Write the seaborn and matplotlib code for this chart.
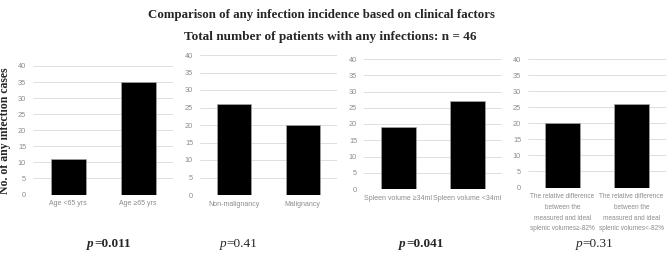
import matplotlib
matplotlib.use("Agg")
import matplotlib.pyplot as plt
import seaborn as sns

sns.set_theme(style="white")
plt.rcParams['font.family'] = ['Liberation Sans', 'DejaVu Sans']

# ---- data ----
cats_age = ["Age <65 yrs", "Age \u226565 yrs"]
vals_age = [11, 35]
cats_mal = ["Non-malignancy", "Malignancy"]
vals_mal = [26, 20]
cats_spl = ["Spleen volume \u226534ml", "Spleen volume <34ml"]
vals_spl = [19, 27]
cats_rel = ["The relative difference\nbetween the\nmeasured and ideal\nsplenic volumes\u2265-82%",
            "The relative difference\nbetween the\nmeasured and ideal\nsplenic volumes<-82%"]
vals_rel = [20, 26]
p_values = ["0.011", "0.41", "0.041", "0.31"]
p_bold = [True, False, True, False]
yticks = [0, 5, 10, 15, 20, 25, 30, 35, 40]

W, H = 667, 259
fig = plt.figure(figsize=(W / 100, H / 100), dpi=100)

# axes boxes in pixels: left, right, top(y=40), bottom(y=0)
boxes = [(33, 173, 66, 194.5), (200, 337, 55, 195), (364, 502, 59, 189), (528, 666, 59, 187.5)]
panels = [(cats_age, vals_age), (cats_mal, vals_mal), (cats_spl, vals_spl), (cats_rel, vals_rel)]
xsizes = [5, 5, 5, 4.7]
serif = "Liberation Serif"

axes = []
for (l, r, t, b), (cats, vals), xs in zip(boxes, panels, xsizes):
    ax = fig.add_axes([l / W, (H - b) / H, (r - l) / W, (b - t) / H])
    sns.barplot(x=cats, y=vals, ax=ax, color="black", saturation=1, width=0.5,
                edgecolor="#a6a6a6", linewidth=0.5, zorder=3)
    ax.set_ylim(0, 40)
    ax.set_xlim(-0.5, 1.5)
    ax.set_yticks(yticks)
    ax.yaxis.grid(True, color="#dedede", linewidth=0.7, zorder=0)
    ax.set_axisbelow(True)
    for s in ax.spines.values():
        s.set_visible(False)
    ax.tick_params(axis="y", length=0, labelsize=5.3, labelcolor="#8c8c8c", pad=5)
    ax.tick_params(axis="x", length=0, labelsize=xs, labelcolor="#8c8c8c", pad=4)
    for lab in ax.get_xticklabels():
        lab.set_linespacing(1.75)
    ax.set_xlabel("")
    ax.set_ylabel("")
    axes.append(ax)

axes[0].set_ylabel("No. of any infection cases", fontfamily=serif, fontweight="bold",
                   fontsize=8.5, labelpad=5)

fig.text(322 / W, 1 - 15 / H, "Comparison of any infection incidence based on clinical factors",
         ha="center", va="center", fontfamily=serif, fontweight="bold", fontsize=9.3)
fig.text(330 / W, 1 - 37 / H, "Total number of patients with any infections: n = 46",
         ha="center", va="center", fontfamily=serif, fontweight="bold", fontsize=9.5)

p_x = [94, 226, 406, 582]
for x, pv, bold in zip(p_x, p_values, p_bold):
    y = 1 - 244 / H
    fig.text(x / W, y, "p", ha="right", va="center", fontfamily=serif,
             fontstyle="italic", fontweight="bold" if bold else "normal", fontsize=9.5)
    fig.text(x / W, y, "=" + pv, ha="left", va="center", fontfamily=serif,
             fontweight="bold" if bold else "normal", fontsize=9.5)

fig.savefig("out.png", dpi=100, facecolor="white")
